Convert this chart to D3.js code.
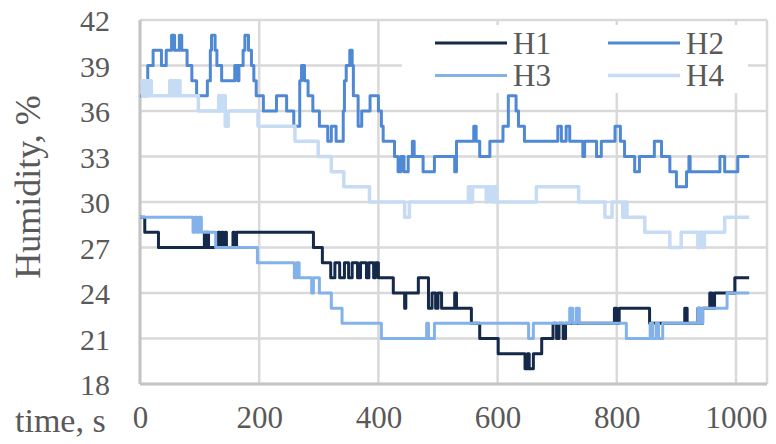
<!DOCTYPE html>
<html>
<head>
<meta charset="utf-8">
<script src="https://cdn.jsdelivr.net/npm/d3@7"></script>
<style>
  html, body { margin: 0; padding: 0; background: #ffffff; }
  svg { display: block; }
  text { font-family: "Liberation Serif", "Times New Roman", serif; fill: #595959; }
</style>
</head>
<body>
<svg id="chart" width="776" height="444"></svg>
<script>
// Humidity readings: [time in s, humidity in %] at each change of the sensor value
const h1 = [[0,29],[8,28],[31,27],[108,28],[110,27],[112,28],[115,27],[131,28],[134,27],[137,28],[140,27],[143,28],[145,27],
  [156,28],[159,27],[162,28],[291,27],[306,26],[320,25],[327,26],[335,25],[343,26],[350,25],[356,26],[365,25],[370,26],
  [380,25],[384,26],[392,25],[395,26],[400,25],[425,24],[444,23],[446,24],[467,25],
  [484,23],[490,24],[496,23],[500,24],[506,23],[528,24],[531,23],[556,22],[570,21],[601,20],[646,19],[650,20],[653,19],
  [660,20],[674,21],[693,22],[699,21],[703,22],[710,21],[714,22],[796,23],[800,22],[804,23],[855,22],
  [914,23],[918,22],[936,23],[940,22],[944,23],[956,24],[960,23],[964,24],[998,25],[1022,25]];

const h2 = [[0,37],[13,39],[22,40],[36,39],[44,40],[53,41],[58,40],[66,41],[70,40],[79,39],[87,38],[95,37],[113,38],
  [118,40],[120,41],[126,40],[129,39],[137,38],[159,39],[164,38],[166,39],[173,40],[176,41],[182,40],[187,39],[191,38],
  [195,37],[207,36],[229,37],[246,36],[258,35],[268,38],[271,39],[276,38],[282,37],[290,36],[301,35],[315,34],[321,35],
  [329,34],[341,36],[343,38],[346,39],[352,40],[356,39],[358,37],[366,35],[372,36],[386,37],[400,36],[405,35],[408,34],
  [427,33],[433,32],[438,33],[443,32],[450,33],[457,34],[460,33],[475,32],[494,33],[528,32],[531,34],[560,35],[564,34],
  [570,33],[587,34],[609,35],[618,37],[631,36],[635,35],[645,34],[701,35],[707,34],[715,35],[721,34],[743,33],[746,34],
  [766,33],[774,34],[797,35],[806,34],[813,33],[830,32],[838,33],[863,34],[875,33],[889,32],[900,31],[917,32],[921,33],
  [923,32],[973,33],[981,32],[1003,33],[1022,33]];

const h3 = [[0,29],[89,28],[92,29],[96,28],[99,29],[103,28],[127,27],[197,26],[259,25],[263,26],[267,25],[288,24],
  [291,25],[301,24],[321,23],[339,22],[405,21],[481,22],[484,21],[494,22],[652,21],[660,22],[721,23],[726,22],[732,23],
  [737,22],[816,21],[856,22],[860,21],[866,22],[870,21],[877,22],[936,23],[940,22],[944,23],[985,24],[1022,24]];

const h4 = [[0,38],[4,37],[6,38],[9,37],[11,38],[15,37],[17,38],[19,37],[50,38],[53,37],[56,38],[60,37],[63,38],[67,37],
  [98,36],[132,37],[135,36],[138,37],[143,35],[148,36],[198,35],[260,34],[299,33],[321,32],[342,31],[385,30],[444,29],
  [452,30],[551,31],[555,30],[558,31],[581,30],[584,31],[590,30],[594,31],[598,30],[665,31],[736,30],[780,29],[792,30],
  [810,29],[813,30],[817,29],[822,29],[847,28],[889,27],[908,28],[936,27],[940,28],[944,27],[947,28],[981,29],[1022,29]];

const seriesNames = ["H1", "H2", "H3", "H4"];
const seriesData = [h1, h2, h3, h4];
const seriesColors = ["#15294a", "#4f88d3", "#83b2ea", "#c6dbf4"];

const xTicks = [0, 200, 400, 600, 800, 1000];
const yTicks = [18, 21, 24, 27, 30, 33, 36, 39, 42];
const xMax = 1052;

const svg = d3.select("#chart");
const plot = { left: 140, right: 767, top: 20, bottom: 384 };

const x = d3.scaleLinear().domain([0, xMax]).range([plot.left, plot.right]);
const y = d3.scaleLinear().domain([18, 42]).range([plot.bottom, plot.top]);

// grid
const grid = svg.append("g");
grid.selectAll("line.h").data(yTicks).join("line")
  .attr("x1", plot.left).attr("x2", plot.right)
  .attr("y1", d => y(d)).attr("y2", d => y(d))
  .attr("stroke", "#d9d9d9").attr("stroke-width", 2.5);
grid.selectAll("line.v").data(xTicks.concat([xMax])).join("line")
  .attr("x1", d => x(d)).attr("x2", d => x(d))
  .attr("y1", plot.top).attr("y2", plot.bottom)
  .attr("stroke", "#d9d9d9").attr("stroke-width", 2.5);
// left and bottom axis lines
svg.append("line").attr("x1", plot.left).attr("x2", plot.left).attr("y1", plot.top).attr("y2", plot.bottom)
  .attr("stroke", "#c4c4c4").attr("stroke-width", 3);
svg.append("line").attr("x1", plot.left).attr("x2", plot.right).attr("y1", plot.bottom).attr("y2", plot.bottom)
  .attr("stroke", "#c4c4c4").attr("stroke-width", 3);

// tick labels via d3 axes
const yAxis = d3.axisLeft(y).tickValues(yTicks).tickSize(0).tickPadding(0).tickFormat(d3.format("d"));
const yg = svg.append("g").attr("transform", `translate(110,0)`).call(yAxis);
yg.select(".domain").remove();
yg.selectAll("text").attr("font-size", 30).attr("fill", "#595959")
  .attr("font-family", "Liberation Serif").attr("dy", "0.35em").attr("x", 0);

const xAxis = d3.axisBottom(x).tickValues(xTicks).tickSize(0).tickPadding(0).tickFormat(d3.format("d"));
const xg = svg.append("g").attr("transform", `translate(0,406)`).call(xAxis);
xg.select(".domain").remove();
xg.selectAll("text").attr("font-size", 31).attr("fill", "#595959")
  .attr("font-family", "Liberation Serif").attr("dy", "0.71em").attr("y", 0);

// lines
const line = d3.line().x(d => x(d[0])).y(d => y(d[1])).curve(d3.curveStepAfter);
seriesData.forEach((data, i) => {
  svg.append("path").datum(data)
    .attr("d", line)
    .attr("fill", "none")
    .attr("stroke", seriesColors[i])
    .attr("stroke-width", i === 3 ? 3.5 : 3)
    .attr("stroke-linejoin", "round");
});

// titles
svg.append("text").attr("x", 15).attr("y", 432).attr("font-size", 34).text("time, s");
svg.append("text").attr("transform", "translate(40,187) rotate(-90)")
  .attr("text-anchor", "middle").attr("font-size", 36).text("Humidity, %");

// legend
const legend = svg.append("g");
legend.append("rect").attr("x", 402).attr("y", 25).attr("width", 346).attr("height", 68).attr("fill", "#ffffff");
const legendPos = [[435, 43], [608, 43], [435, 75.5], [608, 75.5]];
seriesNames.forEach((name, i) => {
  const [lx, ly] = legendPos[i];
  legend.append("line").attr("x1", lx).attr("x2", lx + 72).attr("y1", ly).attr("y2", ly)
    .attr("stroke", seriesColors[i]).attr("stroke-width", i === 3 ? 3.5 : 3);
  legend.append("text").attr("x", lx + 78).attr("y", ly + 10.5).attr("font-size", 31).text(name);
});
</script>
</body>
</html>
